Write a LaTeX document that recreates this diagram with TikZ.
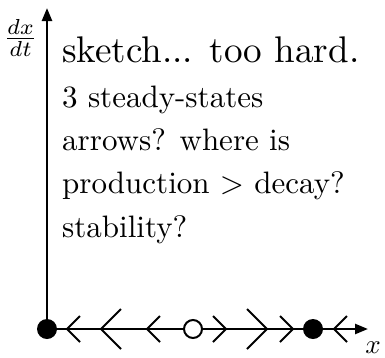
\documentclass[tikz,border=0pt]{standalone}
\usepackage{graphicx}
\usetikzlibrary{arrows.meta}
\newcommand{\bodytxt}[1]{\scalebox{3.1}{\fontsize{10}{12}\selectfont #1}}
\newcommand{\bigtxt}[1]{\scalebox{3.71}{\fontsize{10}{12}\selectfont #1}}
\begin{document}
\begin{tikzpicture}[x=1pt,y=-1pt,
  axis/.style={line width=2.4pt,-{Triangle[length=13pt,width=10pt]}},
  chev/.style={line width=2pt},
  fdot/.style={circle,fill=black,inner sep=0pt,minimum size=20pt},
  odot/.style={circle,draw=black,line width=2pt,fill=white,inner sep=0pt,minimum size=18pt},
  txt/.style={anchor=base west,inner sep=0pt}]
\useasboundingbox (0,0) rectangle (385,357);
\coordinate (O) at (47,329);
\coordinate (ytip) at (47,8);
\coordinate (xtip) at (368,329);
\draw[axis] (O) -- (ytip);
\draw[axis] (O) -- (xtip);
% chevrons
\draw[chev] (80,316) -- (67,329) -- (80,342);
\draw[chev] (121,309) -- (101,329) -- (121,349);
\draw[chev] (160,316) -- (147,329) -- (160,342);
\draw[chev] (213,316) -- (226,329) -- (213,342);
\draw[chev] (247,309) -- (267,329) -- (247,349);
\draw[chev] (280,316) -- (293,329) -- (280,342);
\draw[chev] (347,316) -- (334,329) -- (347,342);
% dots
\node[fdot] (s1) at (O) {};
\node[odot] (s2) at (193,329) {};
\node[fdot] (s3) at (313,329) {};
% labels
\node[inner sep=0pt] (ylab) at (20.5,38) {\scalebox{3.1}{\fontsize{10}{12}\selectfont$\frac{dx}{dt}$}};
\node[inner sep=0pt] (xlab) at (373,347.5) {\scalebox{2.7}{\fontsize{10}{12}\selectfont$x$}};
\node[txt] (t0) at (62,62) {\bigtxt{sketch... too hard.}};
\node[txt] (t1) at (62,107) {\bodytxt{3 steady-states}};
\node[txt] (t2) at (62,150) {\bodytxt{arrows? where is}};
\node[txt] (t3) at (62,193) {\bodytxt{production $>$ decay?}};
\node[txt] (t4) at (62,237) {\bodytxt{stability?}};
\end{tikzpicture}
\end{document}
